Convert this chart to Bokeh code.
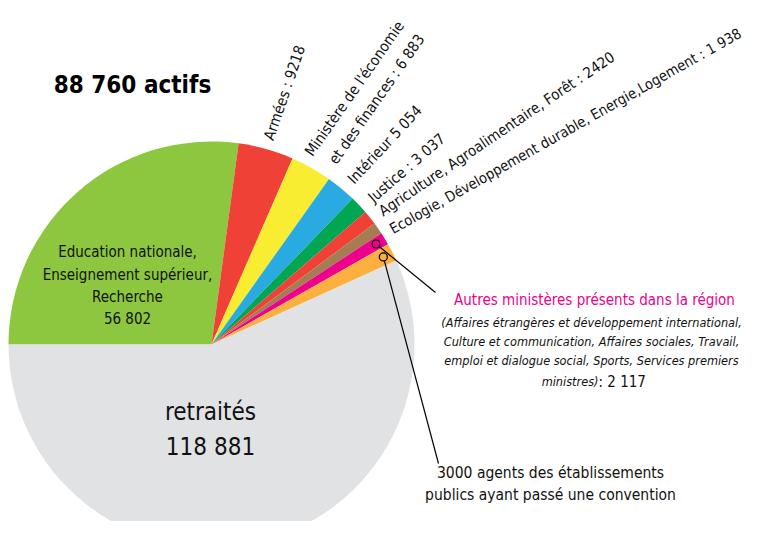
import math
from bokeh.plotting import figure
from bokeh.models import Range1d, ColumnDataSource
from bokeh.core.properties import value
from bokeh.embed import file_html
from bokeh.resources import INLINE

# ---- data ----
categories = ["Education nationale", "Armées", "Economie et finances", "Intérieur",
              "Justice", "Agriculture", "Ecologie", "Autres ministères",
              "Etablissements publics", "retraités"]
values = [56802, 9218, 6883, 5054, 3037, 2420, 1938, 2117, 3000, 118881]
colors = ["#8DC63F", "#EF4136", "#F9ED32", "#29ABE2", "#00A651", "#EF4136",
          "#A67C52", "#EC008C", "#FBB040", "#E1E2E4"]

title_text = "88 760 actifs"
edu_lines = ["Education nationale,", "Enseignement supérieur,", "Recherche", "56 802"]
retr_lines = ["retraités", "118 881"]
rot_labels = ["Armées : 9218", "Ministère de l'économie", "et des finances : 6 883",
              "Intérieur 5 054", "Justice : 3 037",
              "Agriculture, Agroalimentaire, Forêt : 2420",
              "Ecologie, Développement durable, Energie,Logement : 1 938"]
autres_title = "Autres ministères présents dans la région"
autres_lines = ["(Affaires étrangères et développement international,",
                "Culture et communication, Affaires sociales, Travail,",
                "emploi et dialogue social, Sports, Services premiers"]
autres_last = ["ministres)", " : 2 117"]
etab_lines = ["3000 agents des établissements", "publics ayant passé une convention"]

FONT = "DejaVu Sans Condensed"

# ---- geometry ----
CX, CY, R = 211, 193, 203
total = sum(values)
starts, ends = [], []
a = math.pi  # start at west, go clockwise
for v in values:
    b = a - v / total * 2 * math.pi
    starts.append(b)
    ends.append(a)
    a = b

src = ColumnDataSource(dict(cat=categories, val=values, color=colors,
                            start=starts, end=ends))

p = figure(width=746, height=521, x_range=Range1d(0, 746), y_range=Range1d(16, 537),
           output_backend="svg", toolbar_location=None, min_border=0,
           x_axis_type=None, y_axis_type=None)
p.grid.visible = False
p.outline_line_color = None
p.background_fill_color = "white"

p.wedge(x=CX, y=CY, radius=R, start_angle="start", end_angle="end",
        fill_color="color", line_color=None, source=src)

# ---- texts ----
def txt(x, y, t, size, align="center", angle=0.0, style="normal", color="#111111"):
    p.text(x=[x], y=[y], text=[t], angle=[math.radians(angle)],
           text_font=value(FONT), text_font_size=f"{size}px", text_align=align,
           text_baseline="middle", text_font_style=style, text_color=color)

# positions below are image-pixel centres (y measured from top)
txt(132, 537 - 84, title_text, 24, style="bold", color="#000000")

for t, yc in zip(edu_lines, [251, 274, 296, 318]):
    txt(127, 537 - yc, t, 15)

for t, yc in zip(retr_lines, [411, 446]):
    txt(210, 537 - yc, t, 24)

rot_pos = [(268, 139, 71, 15), (308, 154, 55, 15), (332, 162, 55, 15),
           (350, 181, 47, 15), (370, 199, 41, 15), (380, 212, 34, 15),
           (390, 229, 29.5, 14.6)]
for t, (x, y, ang, sz) in zip(rot_labels, rot_pos):
    txt(x, 537 - y, t, sz, align="left", angle=ang)

txt(594, 537 - 299, autres_title, 15, color="#EC008C")
for t, yc in zip(autres_lines, [322, 341, 360]):
    txt(591, 537 - yc, t, 12.6, style="italic")
txt(598, 537 - 381, autres_last[0], 12.6, align="right", style="italic")
txt(598, 537 - 381, autres_last[1], 15, align="left")

for t, yc in zip(etab_lines, [472, 494]):
    txt(550, 537 - yc, t, 15.5)

# ---- leader lines with dots ----
def mid(i):
    return (starts[i] + ends[i]) / 2

for idx, (ex, ey) in [(7, (435, 292)), (8, (438, 463))]:
    ang = mid(idx)
    dx = CX + 0.95 * R * math.cos(ang)
    dy = CY + 0.95 * R * math.sin(ang)
    p.line(x=[dx, ex], y=[dy, 537 - ey], line_color="black", line_width=1.2)
    p.scatter(x=[dx], y=[dy], size=8, marker="circle", fill_color=colors[idx],
              line_color="black", line_width=1.2)

open("out.html", "w").write(file_html(p, INLINE))
